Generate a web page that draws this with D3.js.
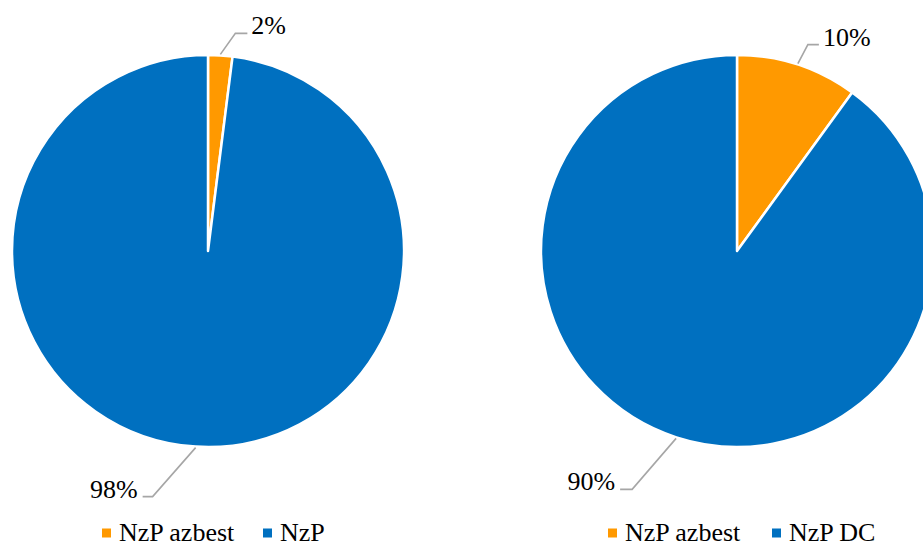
<!DOCTYPE html>
<html>
<head>
<meta charset="utf-8">
<script src="https://cdn.jsdelivr.net/npm/d3@7"></script>
<style>
  html, body { margin: 0; padding: 0; background: #fff; }
  svg { display: block; }
  svg text { font-family: 'Liberation Serif', 'DejaVu Serif', 'Times New Roman', serif; }
</style>
</head>
<body>
<svg id="chart" width="923" height="545"></svg>
<script>
// Shares of the two waste categories in each pie (percent)
const leftCategories = ["NzP azbest", "NzP"];
const leftValues = [2, 98];
const rightCategories = ["NzP azbest", "NzP DC"];
const rightValues = [10, 90];
const sliceColors = ["#FF9900", "#0070C0"];

const svg = d3.select("#chart");
const radius = 196;
const serif = "'Liberation Serif', 'DejaVu Serif', 'Times New Roman', serif";

// Per-pie layout: centre, leader-line elbow offsets and legend placement
const pies = [
  {
    categories: leftCategories, values: leftValues,
    cx: 208, cy: 251,
    leaders: [ { dx: 15, dy: -21, run: 12, side: "right" },
               { dx: -43, dy: 49, run: -10, side: "left" } ],
    legendX: [102, 263]
  },
  {
    categories: rightCategories, values: rightValues,
    cx: 737, cy: 251,
    leaders: [ { dx: 10, dy: -19, run: 11, side: "right" },
               { dx: -44, dy: 51, run: -12, side: "left" } ],
    legendX: [608, 772]
  }
];

const color = d3.scaleOrdinal().range(sliceColors);

pies.forEach(p => {
  const data = p.categories.map((c, i) => ({ category: c, value: p.values[i], index: i }));
  const pie = d3.pie().sort(null).value(d => d.value);
  const arcs = pie(data);
  const arc = d3.arc().innerRadius(0).outerRadius(radius);
  const anchorArc = d3.arc().innerRadius(radius + 1).outerRadius(radius + 1);

  const g = svg.append("g").attr("transform", `translate(${p.cx},${p.cy})`);

  g.selectAll("path.slice")
    .data(arcs)
    .join("path")
    .attr("class", "slice")
    .attr("d", arc)
    .attr("fill", d => color(d.data.index))
    .attr("stroke", "#fff")
    .attr("stroke-width", 2.5)
    .attr("stroke-linejoin", "round");

  // Leader lines and percentage labels
  arcs.forEach((a, i) => {
    const L = p.leaders[i];
    const [ax, ay] = anchorArc.centroid(a);
    const ex = ax + L.dx, ey = ay + L.dy;
    const hx = ex + L.run;
    g.append("polyline")
      .attr("points", `${ax},${ay} ${ex},${ey} ${hx},${ey}`)
      .attr("fill", "none")
      .attr("stroke", "#A6A6A6")
      .attr("stroke-width", 1.6);
    g.append("text")
      .attr("x", L.side === "right" ? hx + 4 : hx - 5)
      .attr("y", ey + 1)
      .attr("text-anchor", L.side === "right" ? "start" : "end")
      .attr("font-family", serif)
      .attr("font-size", 26)
      .attr("fill", "#000")
      .text(a.data.value + "%");
  });

  // Legend below the pie
  const lg = svg.append("g");
  data.forEach((d, i) => {
    const x = p.legendX[i];
    lg.append("rect")
      .attr("x", x).attr("y", 528.5)
      .attr("width", 9).attr("height", 9)
      .attr("fill", color(d.index));
    lg.append("text")
      .attr("x", x + 17).attr("y", 540.5)
      .attr("font-family", serif)
      .attr("font-size", 26)
      .attr("fill", "#000")
      .text(d.category);
  });
});
</script>
</body>
</html>
